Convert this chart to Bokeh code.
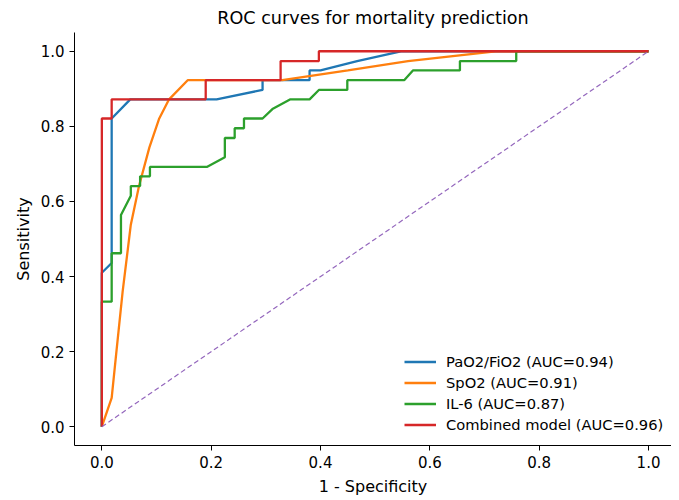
from bokeh.plotting import figure
from bokeh.models import Range1d, Legend, LegendItem, FixedTicker, PrintfTickFormatter
from bokeh.embed import file_html
from bokeh.resources import INLINE

# ---- data ----
fpr_pf = [0.0, 0.0, 0.018, 0.018, 0.052, 0.21, 0.294, 0.294, 0.38, 0.38, 0.40, 0.467, 0.547, 1.0]
tpr_pf = [0.0, 0.41, 0.436, 0.821, 0.872, 0.872, 0.897, 0.923, 0.923, 0.949, 0.949, 0.974, 1.0, 1.0]

fpr_spo2 = [0.0, 0.018, 0.027, 0.038, 0.053, 0.068, 0.087, 0.105, 0.123, 0.157, 0.33, 0.45, 0.56, 0.72, 1.0]
tpr_spo2 = [0.0, 0.077, 0.205, 0.359, 0.538, 0.641, 0.744, 0.821, 0.872, 0.923, 0.923, 0.949, 0.974, 1.0, 1.0]

fpr_il6 = [0.0, 0.0, 0.018, 0.018, 0.035, 0.035, 0.053, 0.053, 0.07, 0.07, 0.088, 0.088, 0.192,
           0.225, 0.225, 0.243, 0.243, 0.26, 0.26, 0.294, 0.312, 0.345, 0.38, 0.397, 0.449, 0.449,
           0.553, 0.569, 0.655, 0.655, 0.758, 0.758, 1.0]
tpr_il6 = [0.0, 0.333, 0.333, 0.462, 0.462, 0.564, 0.615, 0.641, 0.641, 0.667, 0.667, 0.692, 0.692,
           0.718, 0.769, 0.769, 0.795, 0.795, 0.821, 0.821, 0.846, 0.872, 0.872, 0.897, 0.897, 0.923,
           0.923, 0.949, 0.949, 0.974, 0.974, 1.0, 1.0]

fpr_comb = [0.0, 0.0, 0.018, 0.018, 0.19, 0.19, 0.327, 0.327, 0.397, 0.397, 1.0]
tpr_comb = [0.0, 0.821, 0.821, 0.872, 0.872, 0.923, 0.923, 0.974, 0.974, 1.0, 1.0]

chance = [0.0, 1.0]

labels = ["PaO2/FiO2 (AUC=0.94)", "SpO2 (AUC=0.91)", "IL-6 (AUC=0.87)", "Combined model (AUC=0.96)"]
colors = ["#1f77b4", "#ff7f0e", "#2ca02c", "#d62728"]
ticks = [0.0, 0.2, 0.4, 0.6, 0.8, 1.0]

FONT = "DejaVu Sans"

p = figure(width=671, height=498, output_backend="svg", toolbar_location=None,
           x_range=Range1d(-0.05, 1.042), y_range=Range1d(-0.05, 1.05),
           min_border_left=74, min_border_right=0, min_border_top=32, min_border_bottom=52)

p.title.text = "ROC curves for mortality prediction"
p.title.align = "center"
p.title.text_font = FONT
p.title.text_font_size = "17.6px"
p.title.text_font_style = "normal"
p.title.text_color = "#000000"

p.outline_line_color = None
p.xgrid.visible = False
p.ygrid.visible = False

for ax, lab in ((p.xaxis, "1 - Specificity"), (p.yaxis, "Sensitivity")):
    ax.ticker = FixedTicker(ticks=ticks)
    ax.formatter = PrintfTickFormatter(format="%.1f")
    ax.axis_label = lab
    ax.axis_label_text_font = FONT
    ax.axis_label_text_font_size = "16px"
    ax.axis_label_text_font_style = "normal"
    ax.axis_label_text_color = "#000000"
    ax.major_label_text_font = FONT
    ax.major_label_text_font_size = "15px"
    ax.major_label_text_color = "#000000"
    ax.axis_line_color = "#000000"
    ax.axis_line_width = 1
    ax.major_tick_line_color = "#000000"
    ax.major_tick_out = 5
    ax.major_tick_in = 0
    ax.minor_tick_line_color = None

p.xaxis.major_label_standoff = 5
p.xaxis.axis_label_standoff = 6
p.yaxis.major_label_standoff = 5
p.yaxis.axis_label_standoff = 5

series = [(fpr_pf, tpr_pf), (fpr_spo2, tpr_spo2), (fpr_il6, tpr_il6), (fpr_comb, tpr_comb)]
renderers = []
for (xs, ys), c in zip(series, colors):
    r = p.line(xs, ys, line_color=c, line_width=2.3)
    renderers.append(r)

p.line(chance, chance, line_color="#9467bd", line_width=1.2, line_dash="5 3")

legend = Legend(items=[LegendItem(label=l, renderers=[r]) for l, r in zip(labels, renderers)],
                location=(330, 10))
legend.border_line_color = None
legend.background_fill_alpha = 0
legend.label_text_font = FONT
legend.label_text_font_size = "14.7px"
legend.label_text_color = "#000000"
legend.glyph_width = 32
legend.glyph_height = 21
legend.label_height = 21
legend.spacing = 0
legend.padding = 4
legend.margin = 0
legend.label_standoff = 10
p.add_layout(legend)

open("out.html", "w").write(file_html(p, INLINE))
